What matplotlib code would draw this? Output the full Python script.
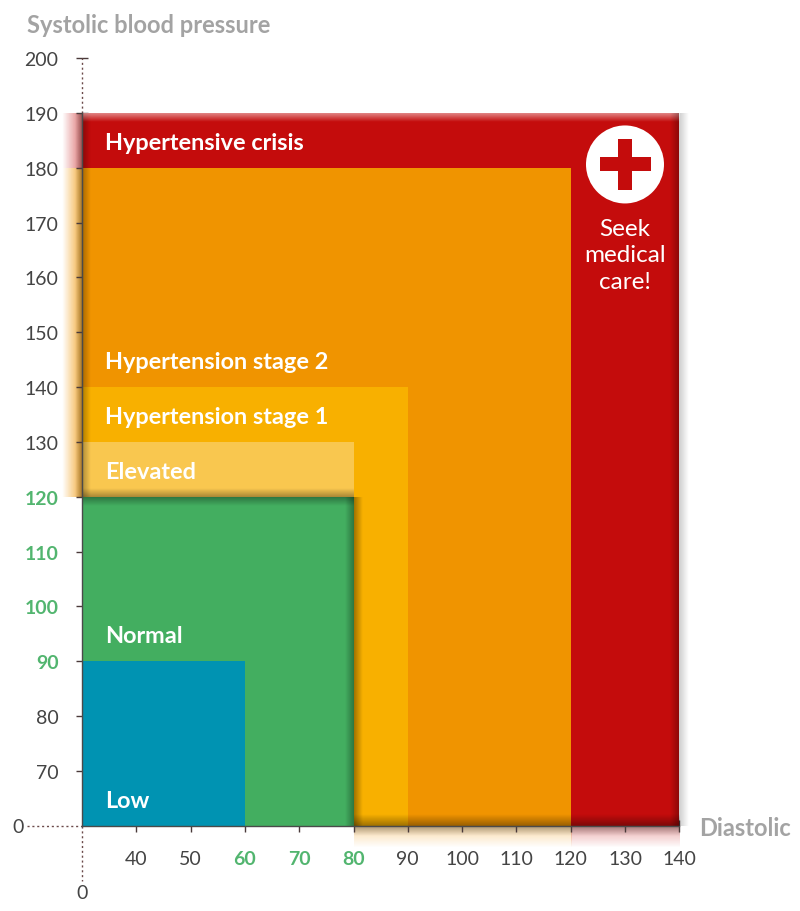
import numpy as np
import matplotlib
matplotlib.use('Agg')
import matplotlib.pyplot as plt
from matplotlib.colors import to_rgb
from matplotlib.patches import Ellipse, Rectangle

# Blood pressure zones, drawn back to front
zones = ['Hypertensive crisis', 'Hypertension stage 2', 'Hypertension stage 1', 'Elevated', 'Normal', 'Low']
diastolic_top = [140, 120, 90, 80, 80, 60]
systolic_top = [190, 180, 140, 130, 120, 90]
systolic_bottom = [60, 60, 60, 120, 60, 60]
label_systolic = [185, 145, 135, 125, 95, 65]
zone_colors = ['#C40C0C', '#F09400', '#F8B000', '#F9C74F', '#43AE60', '#0093B2']

x_ticks = [40, 50, 60, 70, 80, 90, 100, 110, 120, 130, 140]
y_ticks = [70, 80, 90, 100, 110, 120, 130, 140, 150, 160, 170, 180, 190, 200]
green_x = [60, 70, 80]
green_y = [90, 100, 110, 120]

X0, Y0 = 30, 60  # axis origin, both are labelled 0 after the break
PX_X, PX_Y = 5.43, 5.483  # pixels per unit

plt.rcParams['font.family'] = ['Lato', 'DejaVu Sans']

fig = plt.figure(figsize=(8, 9.12), dpi=100)
ax = fig.add_axes([0, 0, 1, 1])


def fade(x0, x1, y0, y1, color, a0, a1, vertical, z):
    # soft shadow strip, alpha goes a0 -> a1 along x or up along y
    n = 32
    rgba = np.zeros((n, 1, 4)) if vertical else np.zeros((1, n, 4))
    rgba[..., :3] = to_rgb(color)
    alpha = np.linspace(a0, a1, n)
    rgba[..., 3] = alpha[:, None] if vertical else alpha[None, :]
    ax.imshow(rgba, extent=(x0, x1, y0, y1), origin='lower', aspect='auto',
              interpolation='bilinear', zorder=z)


# zones
for i, name in enumerate(zones):
    w = diastolic_top[i] - X0
    h = systolic_top[i] - systolic_bottom[i]
    ax.add_patch(Rectangle((X0, systolic_bottom[i]), w, h, fc=zone_colors[i], ec='none', zorder=2 + i * 0.1))

gx = 9 / PX_X   # right glow width
gy = 22 / PX_Y  # bottom glow height
dx = 9 / PX_X
dy = 9 / PX_Y

# left glow outside the axis
fade(X0 - 20 / PX_X, X0, 180, 190, '#C40C0C', 0.0, 0.55, False, 1)
fade(X0 - 20 / PX_X, X0, 120, 180, '#F09400', 0.0, 0.75, False, 1)
fade(X0 - 7 / PX_X, X0, 120, 190, '#000000', 0.0, 0.3, False, 1.5)
fade(X0, X0 + 9 / PX_X, 120, 190, '#000000', 0.3, 0.0, False, 3)

# top highlight of the red block
fade(X0, 140, 190 - 9 / PX_Y, 190, '#FFFFFF', 0.0, 0.5, True, 3)

# right edge of the red block
fade(140 - dx, 140, 60, 190, '#000000', 0.0, 0.28, False, 3)
fade(140, 140 + gx, 60, 190, '#000000', 0.2, 0.0, False, 1)

# bottom glow below the axis
fade(80, 120, Y0 - gy, Y0, '#F09400', 0.0, 0.35, True, 1)
fade(120, 140, Y0 - gy, Y0, '#C40C0C', 0.0, 0.35, True, 1)
fade(80, 140, Y0 - 10 / PX_Y, Y0, '#000000', 0.0, 0.3, True, 1.5)
fade(80, 140, Y0, Y0 + 11 / PX_Y, '#000000', 0.36, 0.0, True, 3)

# shadow around the green block
fade(30, 80, 120, 120 + 9 / PX_Y, '#000000', 0.32, 0.0, True, 3)
fade(30, 80, 120 - 9 / PX_Y, 120, '#000000', 0.0, 0.32, True, 3)
fade(80 - dx, 80, 60, 120, '#000000', 0.0, 0.32, False, 3)
fade(80, 80 + dx, 60, 120, '#000000', 0.35, 0.0, False, 3)

# medical badge
badge_x, badge_y = 130, 180.6
ax.add_patch(Ellipse((badge_x, badge_y), 78 / PX_X, 78 / PX_Y, fc='white', ec='none', zorder=4))
ax.add_patch(Rectangle((badge_x - 25.5 / PX_X, badge_y - 7 / PX_Y), 51 / PX_X, 14 / PX_Y, fc='#C40C0C', ec='none', zorder=5))
ax.add_patch(Rectangle((badge_x - 7 / PX_X, badge_y - 25.5 / PX_Y), 14 / PX_X, 51 / PX_Y, fc='#C40C0C', ec='none', zorder=5))
ax.text(badge_x, 164.1, 'Seek\nmedical\ncare!', color='white', fontsize=17.5, ha='center', va='center',
        linespacing=1.3, zorder=5)

# zone labels
for i, name in enumerate(zones):
    ax.text(34.3, label_systolic[i] - 0.35, name, color='white', fontsize=16.9, fontweight='bold',
            ha='left', va='center', zorder=6)

# axes
ax.set_xlim(X0 - 82 / PX_X, X0 + 718 / PX_X)
ax.set_ylim(Y0 - 85.3 / PX_Y, Y0 + 826.7 / PX_Y)
ax.patch.set_visible(False)
for side in ['top', 'right']:
    ax.spines[side].set_visible(False)
ax.spines['left'].set_position(('data', X0))
ax.spines['bottom'].set_position(('data', Y0))
ax.spines['left'].set_bounds(60, 190)
ax.spines['bottom'].set_bounds(30, 140)
for side in ['left', 'bottom']:
    ax.spines[side].set_color('#4a4a4a')
    ax.spines[side].set_linewidth(1.0)
    ax.spines[side].set_zorder(8)
ax.set_xticks(x_ticks)
ax.set_yticks(y_ticks)
ax.tick_params(axis='y', direction='inout', length=9, width=1, color='#4a3a3a', pad=12.5,
               labelsize=14, labelcolor='#444444', zorder=8)
ax.tick_params(axis='x', direction='inout', length=9, width=1, color='#4a3a3a', pad=13,
               labelsize=14, labelcolor='#444444', zorder=8)
for t, v in zip(ax.get_xticklabels(), x_ticks):
    if v in green_x:
        t.set_color('#52B56F')
        t.set_fontweight('bold')
for t, v in zip(ax.get_yticklabels(), y_ticks):
    if v in green_y:
        t.set_color('#52B56F')
        t.set_fontweight('bold')

# dotted axis extensions
dot = dict(color='#6b4a4a', lw=1, ls=(0, (1.5, 2)), zorder=8)
ax.plot([X0, X0], [190, 200], **dot)
ax.plot([X0, X0], [Y0, Y0 - 55 / PX_Y], **dot)
ax.plot([X0 - 55 / PX_X, X0], [Y0, Y0], **dot)

# broken axis zeros and titles
ax.text(X0 - 64 / PX_X, Y0 - 1 / PX_Y, '0', color='#444444', fontsize=14, ha='center', va='center')
ax.text(X0, Y0 - 67 / PX_Y, '0', color='#444444', fontsize=14, ha='center', va='center')
ax.text(X0 - 55 / PX_X, Y0 + 801.5 / PX_Y, 'Systolic blood pressure', color='#A3A3A3', fontsize=17,
        fontweight='bold', ha='left', va='center')
ax.text(X0 + 617 / PX_X, Y0 - 1.5 / PX_Y, 'Diastolic', color='#A3A3A3', fontsize=17, fontweight='bold',
        ha='left', va='center')

fig.savefig('out.png', dpi=100)
